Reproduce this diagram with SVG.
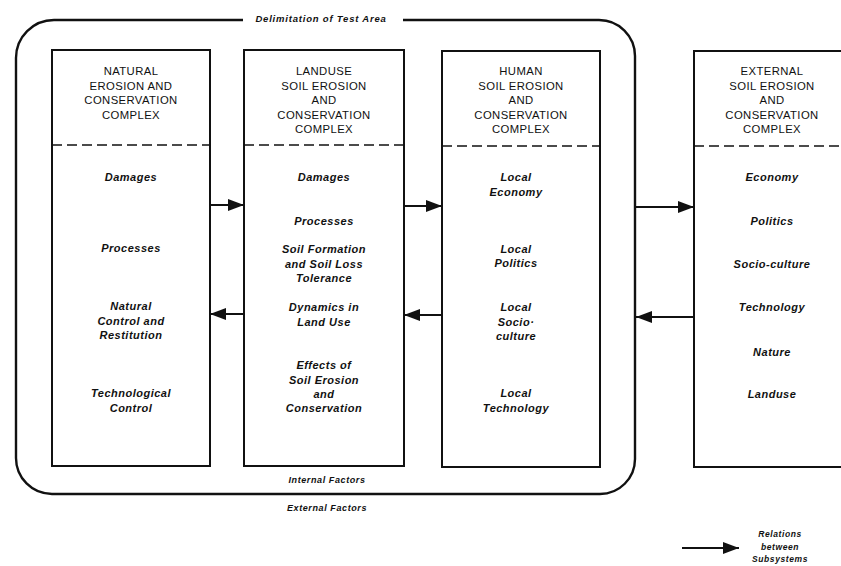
<svg xmlns="http://www.w3.org/2000/svg" width="841" height="566" viewBox="0 0 841 566">
<defs>
<marker id="ah" markerUnits="userSpaceOnUse" markerWidth="16" markerHeight="12" viewBox="0 0 16 12" refX="16" refY="6" orient="auto">
<path d="M0,0 L16,6 L0,12 z" fill="#111"/>
</marker>
</defs>
<style>
.box{fill:#fff;stroke:#111;stroke-width:2}
.dash{stroke:#111;stroke-width:1.6;stroke-dasharray:10 5;fill:none}
.title{font-family:"Liberation Sans",Arial,sans-serif;font-size:11.3px;letter-spacing:0.4px;fill:#111;text-anchor:middle}
.item{font-family:"Liberation Sans",Arial,sans-serif;font-size:11px;font-weight:bold;font-style:italic;letter-spacing:0.5px;fill:#111;text-anchor:middle}
.small{font-family:"Liberation Sans",Arial,sans-serif;font-size:9px;font-weight:bold;font-style:italic;letter-spacing:0.6px;fill:#111;text-anchor:middle}
.conn{stroke:#111;stroke-width:2;fill:none;marker-end:url(#ah)}
</style>
<rect width="841" height="566" fill="#fff"/>
<g id="test-area">
<path d="M243,20 L54,20 A38,38 0 0 0 16,58 L16,458 A36,36 0 0 0 52,494 L600,494 A35,35 0 0 0 635,459 L635,56 A36,36 0 0 0 599,20 L403,20" fill="none" stroke="#111" stroke-width="2.4"/>
<text class="small" x="321" y="22" style="font-size:9.5px;letter-spacing:0.8px">Delimitation of Test Area</text>
<text class="small" x="327" y="483">Internal Factors</text>
<text class="small" x="327" y="511">External Factors</text>
</g>
<g id="natural">
<rect class="box" x="52" y="50" width="158" height="416"/>
<line class="dash" x1="52" y1="145" x2="210" y2="145"/>
<text class="title" x="131" y="75">NATURAL</text>
<text class="title" x="131" y="89.5">EROSION AND</text>
<text class="title" x="131" y="104">CONSERVATION</text>
<text class="title" x="131" y="118.5">COMPLEX</text>
<text class="item" x="131" y="181">Damages</text>
<text class="item" x="131" y="252">Processes</text>
<text class="item" x="131" y="310">Natural</text>
<text class="item" x="131" y="325">Control and</text>
<text class="item" x="131" y="339">Restitution</text>
<text class="item" x="131" y="397">Technological</text>
<text class="item" x="131" y="412">Control</text>
</g>
<g id="landuse">
<rect class="box" x="244" y="50" width="160" height="416"/>
<line class="dash" x1="244" y1="145" x2="404" y2="145"/>
<text class="title" x="324" y="75">LANDUSE</text>
<text class="title" x="324" y="89.5">SOIL EROSION</text>
<text class="title" x="324" y="104">AND</text>
<text class="title" x="324" y="118.5">CONSERVATION</text>
<text class="title" x="324" y="133">COMPLEX</text>
<text class="item" x="324" y="181">Damages</text>
<text class="item" x="324" y="225">Processes</text>
<text class="item" x="324" y="253">Soil Formation</text>
<text class="item" x="324" y="268">and Soil Loss</text>
<text class="item" x="324" y="282">Tolerance</text>
<text class="item" x="324" y="311">Dynamics in</text>
<text class="item" x="324" y="326">Land Use</text>
<text class="item" x="324" y="369">Effects of</text>
<text class="item" x="324" y="384">Soil Erosion</text>
<text class="item" x="324" y="398">and</text>
<text class="item" x="324" y="412">Conservation</text>
</g>
<g id="human">
<rect class="box" x="442" y="51" width="158" height="416"/>
<line class="dash" x1="442" y1="146" x2="600" y2="146"/>
<text class="title" x="521" y="75">HUMAN</text>
<text class="title" x="521" y="89.5">SOIL EROSION</text>
<text class="title" x="521" y="104">AND</text>
<text class="title" x="521" y="118.5">CONSERVATION</text>
<text class="title" x="521" y="133">COMPLEX</text>
<text class="item" x="516" y="181">Local</text>
<text class="item" x="516" y="196">Economy</text>
<text class="item" x="516" y="253">Local</text>
<text class="item" x="516" y="267">Politics</text>
<text class="item" x="516" y="311">Local</text>
<text class="item" x="516" y="326">Socio·</text>
<text class="item" x="516" y="340">culture</text>
<text class="item" x="516" y="397">Local</text>
<text class="item" x="516" y="412">Technology</text>
</g>
<g id="external">
<rect class="box" x="694" y="51" width="170" height="416"/>
<line class="dash" x1="694" y1="146" x2="864" y2="146"/>
<text class="title" x="772" y="75">EXTERNAL</text>
<text class="title" x="772" y="89.5">SOIL EROSION</text>
<text class="title" x="772" y="104">AND</text>
<text class="title" x="772" y="118.5">CONSERVATION</text>
<text class="title" x="772" y="133">COMPLEX</text>
<text class="item" x="772" y="181">Economy</text>
<text class="item" x="772" y="225">Politics</text>
<text class="item" x="772" y="268">Socio-culture</text>
<text class="item" x="772" y="311">Technology</text>
<text class="item" x="772" y="356">Nature</text>
<text class="item" x="772" y="398">Landuse</text>
</g>
<g id="connectors">
<line class="conn" x1="210" y1="205" x2="244" y2="205"/>
<line class="conn" x1="244" y1="314" x2="210" y2="314"/>
<line class="conn" x1="404" y1="206" x2="442" y2="206"/>
<line class="conn" x1="442" y1="315" x2="404" y2="315"/>
<line class="conn" x1="635" y1="207" x2="694" y2="207"/>
<line class="conn" x1="694" y1="317" x2="636" y2="317"/>
</g>
<g id="legend">
<line class="conn" x1="682" y1="548" x2="739" y2="548"/>
<text class="small" x="780" y="537" style="font-size:8.5px">Relations</text>
<text class="small" x="780" y="550" style="font-size:8.5px">between</text>
<text class="small" x="780" y="562" style="font-size:8.5px">Subsystems</text>
</g>
</svg>
